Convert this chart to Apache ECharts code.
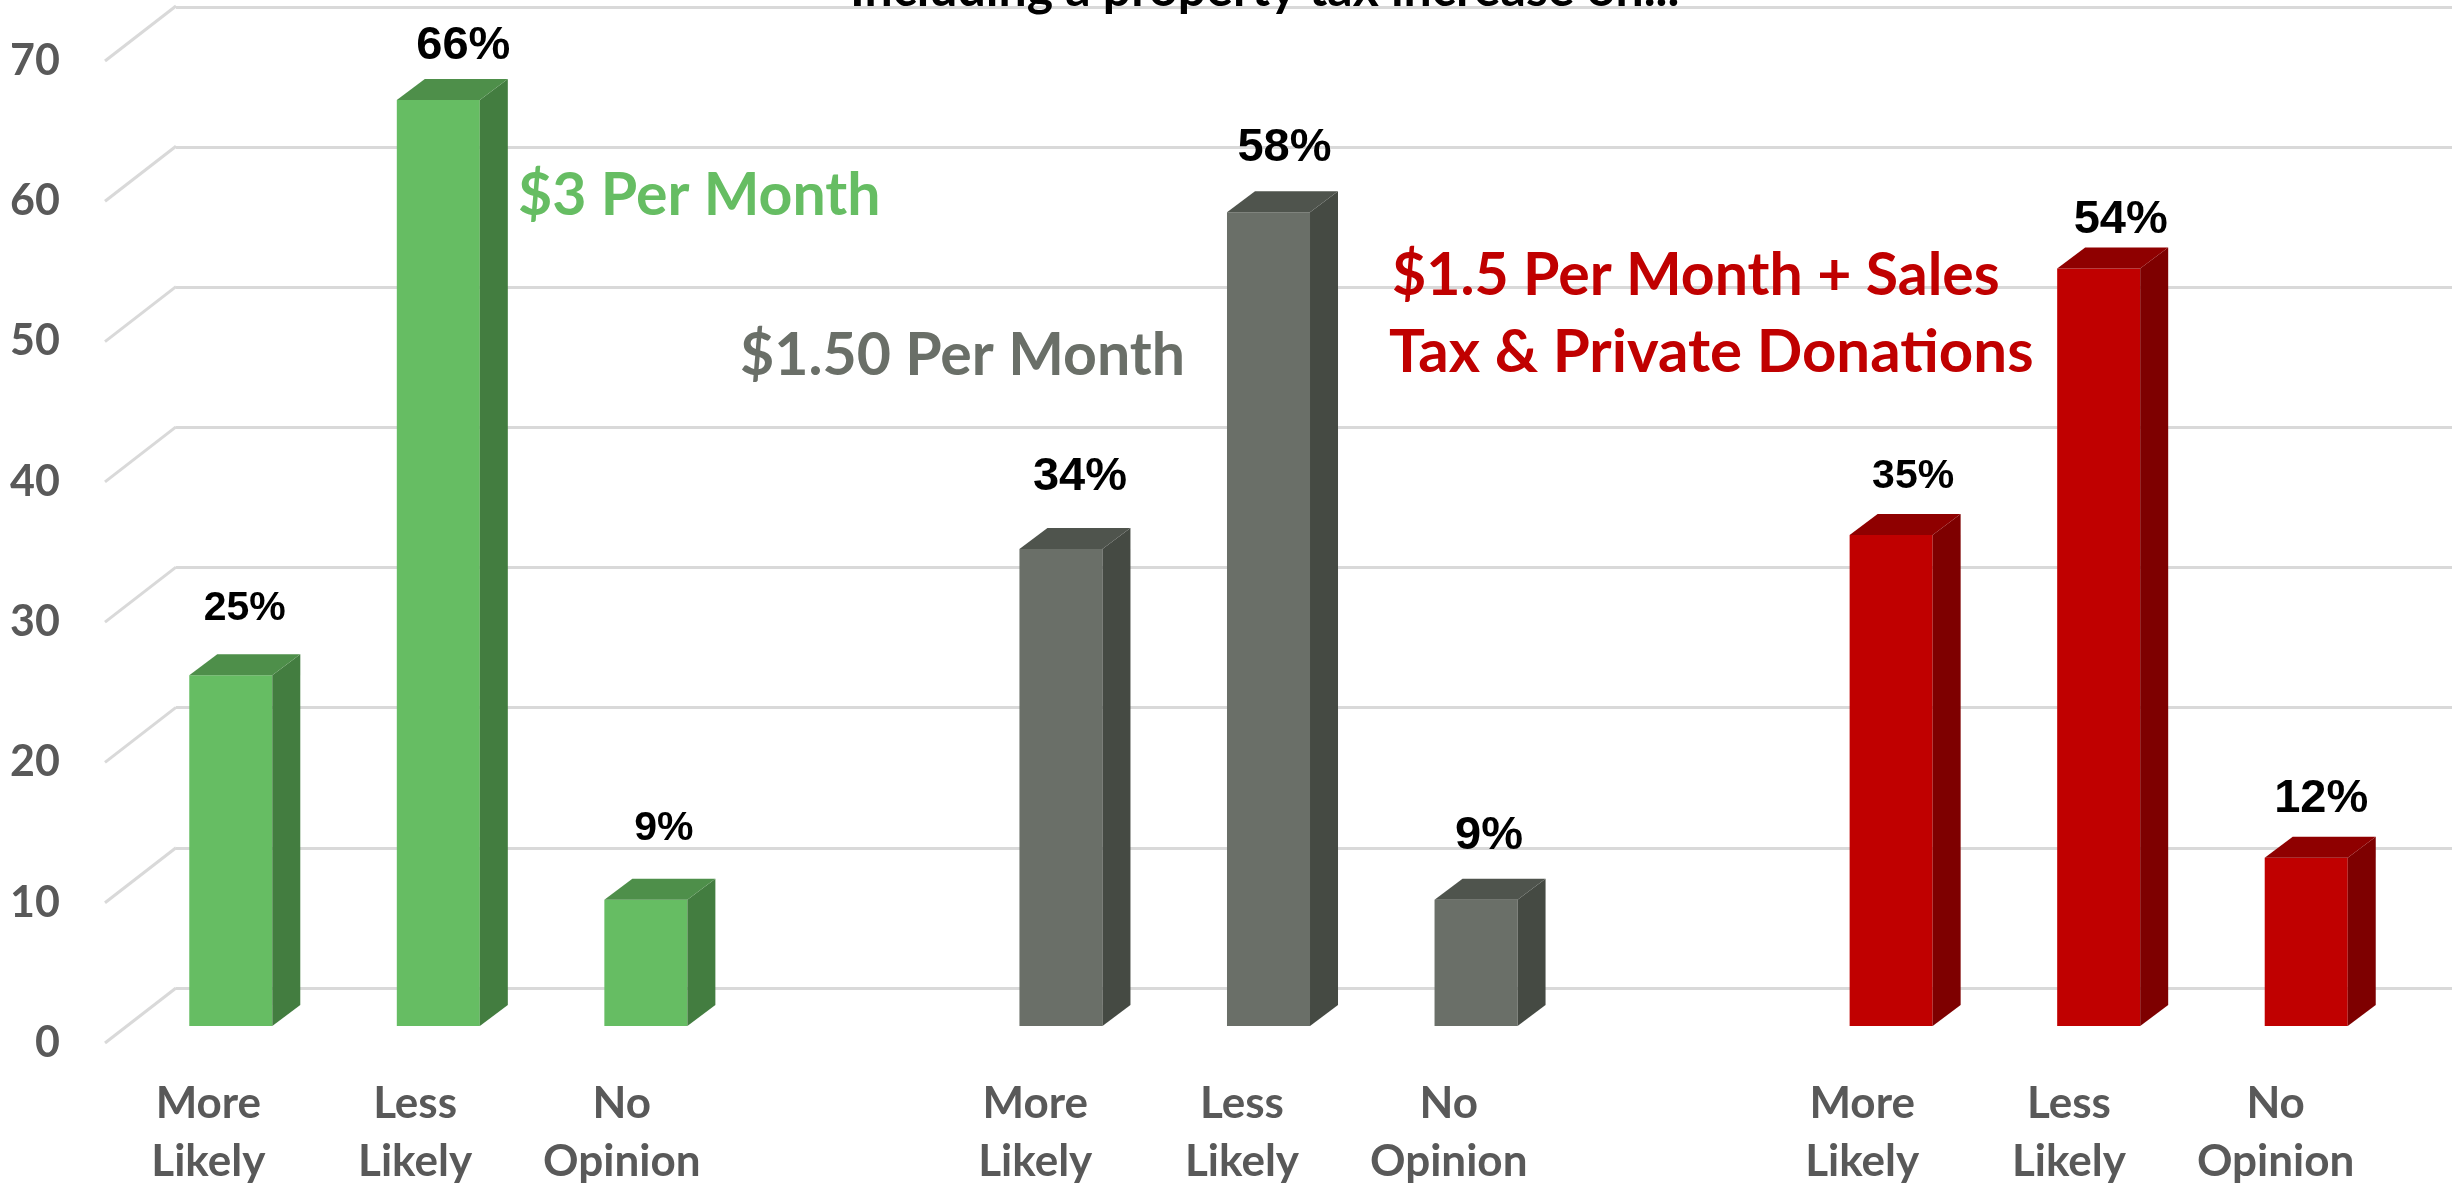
<!DOCTYPE html>
<html><head><meta charset="utf-8">
<style>html,body{margin:0;padding:0;background:#fff}#c{width:2463px;height:1185px}</style>
<script src="https://cdn.jsdelivr.net/npm/echarts@6/dist/echarts.min.js"></script>
</head><body><div id="c"></div>
<script>
const categories = ['More\nLikely','Less\nLikely','No\nOpinion','','More\nLikely','Less\nLikely','No\nOpinion','','More\nLikely','Less\nLikely','No\nOpinion'];
const yTicks = [0,10,20,30,40,50,60,70];
const threeDollar = [25,66,9];
const oneFifty = [34,58,9];
const oneFiftyPlus = [35,54,12];
const titleText = 'Including a property tax increase on...';

const FONT = 'Lato, "Open Sans", sans-serif';
const depth = {x:28,y:21}, wallDepth = {x:71,y:55};
// label nudges relative to each bar's front top centre: [dx, dy, fontSize]
const labelStyle3 = [[14,-67,41],[25,-54,47],[18,-71,41]];
const labelStyle15 = [[19,-72,47],[16,-64,47],[13,-64,47]];
const labelStylePlus = [[22,-58,41],[22,-48,47],[15,-59,47]];

function barSeries(name, slots, values, colors, labels){
  return {
    name, type:'custom', xAxisIndex:2, yAxisIndex:2, z:5,
    data: values.map((v,i)=>[slots[i],v,i]),
    encode:{x:0,y:1},
    renderItem(params, api){
      const top = api.coord([api.value(0), api.value(1)]);
      const base = api.coord([api.value(0), 0]);
      const w = api.size([1,0])[0]*0.4;
      const l = top[0]-w/2, r = top[0]+w/2, t = top[1], b = base[1];
      const lab = labels[api.value(2)];
      return {type:'group',children:[
        {type:'rect',shape:{x:l,y:t,width:w,height:b-t},style:{fill:colors[0]}},
        {type:'polygon',shape:{points:[[r,t],[r+depth.x,t-depth.y],[r+depth.x,b-depth.y],[r,b]]},style:{fill:colors[1]}},
        {type:'polygon',shape:{points:[[l,t],[l+depth.x,t-depth.y],[r+depth.x,t-depth.y],[r,t]]},style:{fill:colors[2]}},
        {type:'text',x:top[0]+lab[0],y:t+lab[1],style:{text:api.value(1)+'%',fill:'#000',align:'center',verticalAlign:'middle',
          font:'bold '+lab[2]+'px "Liberation Sans", Arial, sans-serif'}}
      ]};
    }
  };
}
const chart = echarts.init(document.getElementById('c'),null,{renderer:'canvas'});
const hidden = {show:false};
chart.setOption({
  animation:false, backgroundColor:'#fff',
  grid:[
    {left:176,width:2276,top:7,height:981,outerBoundsMode:'none'},
    {left:105,width:2274,top:61,height:982,outerBoundsMode:'none'},
    {left:127,width:2283,top:44,height:982,outerBoundsMode:'none'}
  ],
  xAxis:[
    {type:'category',gridIndex:0,data:categories,axisLine:hidden,axisTick:hidden,axisLabel:hidden},
    {type:'category',gridIndex:1,data:categories,axisLine:hidden,axisTick:hidden,
     axisLabel:{interval:0,margin:32,color:'#595959',fontFamily:FONT,fontWeight:'bold',fontSize:44,lineHeight:58}},
    {type:'category',gridIndex:2,data:categories,axisLine:hidden,axisTick:hidden,axisLabel:hidden}
  ],
  yAxis:[
    {type:'value',gridIndex:0,min:0,max:70,interval:10,axisLine:hidden,axisTick:hidden,axisLabel:hidden,
     splitLine:{show:true,lineStyle:{color:'#d9d9d9',width:3}}},
    {type:'value',gridIndex:1,min:0,max:70,interval:10,axisLine:hidden,axisTick:hidden,splitLine:hidden,
     axisLabel:{margin:45,color:'#595959',fontFamily:FONT,fontWeight:'bold',fontSize:43}},
    {type:'value',gridIndex:2,min:0,max:70,interval:10,axisLine:hidden,axisTick:hidden,axisLabel:hidden,splitLine:hidden}
  ],
  series:[
    {type:'custom',xAxisIndex:1,yAxisIndex:1,z:2,data:yTicks.map(v=>[0,v]),encode:{y:1},
     renderItem(params,api){
       const p = api.coord([0,api.value(1)]), x0 = params.coordSys.x;
       return {type:'line',shape:{x1:x0,y1:p[1],x2:x0+wallDepth.x,y2:p[1]-wallDepth.y},style:{stroke:'#d9d9d9',lineWidth:3}};
     }},
    barSeries('$3 Per Month',[0,1,2],threeDollar,['#66BD63','#437D40','#4E8F4A'],labelStyle3),
    barSeries('$1.50 Per Month',[4,5,6],oneFifty,['#6A6F68','#454A43','#4F544D'],labelStyle15),
    barSeries('$1.5 Per Month + Sales Tax & Private Donations',[8,9,10],oneFiftyPlus,['#C00000','#7E0000','#8F0000'],labelStylePlus)
  ],
  graphic:[
    {type:'text',left:850,top:-35,z:10,style:{text:titleText,fill:'#000',font:'bold 50px '+FONT}},
    {type:'text',left:518,top:166,z:10,style:{text:'$3 Per Month',fill:'#66BD63',font:'bold 59px '+FONT}},
    {type:'text',left:740,top:326,z:10,style:{text:'$1.50 Per Month',fill:'#6A6F68',font:'bold 59px '+FONT}},
    {type:'text',left:1392,top:246,z:10,style:{text:'$1.5 Per Month + Sales',fill:'#C00000',font:'bold 59px '+FONT}},
    {type:'text',left:1389,top:323,z:10,style:{text:'Tax & Private Donations',fill:'#C00000',font:'bold 60px '+FONT}}
  ]
});
</script></body></html>
